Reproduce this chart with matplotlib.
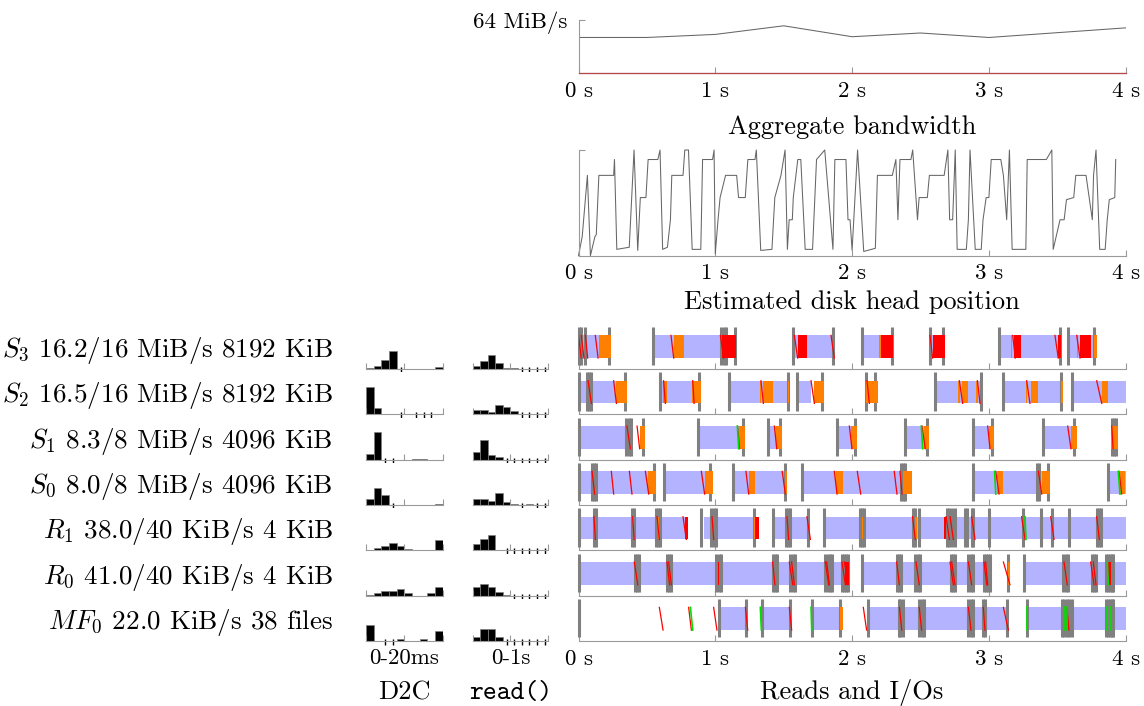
import numpy as np
import matplotlib
matplotlib.use('Agg')
from matplotlib import pyplot as plt

plt.rcParams['font.family'] = 'cmr10'
plt.rcParams['mathtext.fontset'] = 'cm'
plt.rcParams['axes.unicode_minus'] = False
plt.rcParams['axes.formatter.use_mathtext'] = True

#--------- aggregate bandwidth (MiB/s) ---------
bw_t = [0, 0.5, 1, 1.5, 2, 2.5, 3, 3.5, 4]
bw_total = [42.9, 42.9, 46.6, 57.0, 43.8, 48.3, 42.9, 48.7, 54.5]
bw_other = [0, 0, 0, 0, 0, 0, 0, 0, 0]

#--------- estimated disk head position (0..1) ---------
head_t = [0.0, 0.027, 0.065, 0.087, 0.12, 0.13, 0.149, 0.257, 0.263, 0.28, 0.371, 0.406,
          0.433, 0.452, 0.493, 0.509, 0.58, 0.596, 0.615, 0.65, 0.672, 0.682, 0.764, 0.777,
          0.804, 0.831, 0.894, 0.907, 0.98, 0.991, 1.0, 1.02, 1.035, 1.075, 1.156, 1.17,
          1.219, 1.238, 1.29, 1.3, 1.332, 1.414, 1.435, 1.48, 1.51, 1.527, 1.54, 1.563,
          1.57, 1.603, 1.625, 1.657, 1.711, 1.74, 1.8, 1.86, 1.874, 1.955, 1.97, 1.985,
          2.0, 2.04, 2.085, 2.17, 2.185, 2.294, 2.32, 2.335, 2.35, 2.43, 2.443, 2.478,
          2.49, 2.55, 2.565, 2.673, 2.7, 2.713, 2.735, 2.754, 2.768, 2.835, 2.85, 2.862,
          2.9, 2.944, 2.957, 2.98, 3.0, 3.017, 3.087, 3.106, 3.13, 3.15, 3.17, 3.27,
          3.28, 3.42, 3.46, 3.47, 3.52, 3.55, 3.567, 3.62, 3.635, 3.71, 3.756, 3.765,
          3.783, 3.81, 3.85, 3.865, 3.88, 3.92, 3.927]
head_pos = [0.0, 0.18, 0.76, 0.0, 0.18, 0.2, 0.76, 0.76, 0.91, 0.06, 0.08, 1.0,
            0.05, 0.55, 0.55, 0.91, 0.91, 1.0, 0.06, 0.08, 0.34, 0.76, 0.76, 1.0,
            1.0, 0.06, 0.06, 0.91, 0.91, 1.0, 0.02, 0.34, 0.55, 0.76, 0.76, 0.55,
            0.55, 0.91, 0.91, 1.0, 0.05, 0.06, 0.55, 0.76, 1.0, 0.06, 0.34, 0.34,
            0.55, 0.91, 0.91, 0.06, 0.06, 0.91, 1.0, 0.06, 0.91, 0.91, 0.34, 0.34,
            0.05, 1.0, 0.04, 0.07, 0.76, 0.76, 0.91, 0.34, 0.91, 0.91, 1.0, 0.34,
            0.55, 0.55, 0.76, 0.76, 1.0, 0.34, 0.34, 1.0, 0.06, 0.06, 0.34, 1.0,
            0.06, 0.06, 0.34, 0.55, 0.55, 0.91, 0.91, 0.76, 0.34, 1.0, 0.06, 0.06,
            0.91, 0.91, 1.0, 0.06, 0.34, 0.34, 0.53, 0.55, 0.76, 0.76, 0.34, 0.76,
            1.0, 0.06, 0.06, 0.34, 0.53, 0.55, 0.91]

#--------- reads and I/Os, one set of lists per stream ---------
row_labels = [r'$S_3$ 16.2/16 MiB/s 8192 KiB',
              r'$S_2$ 16.5/16 MiB/s 8192 KiB',
              r'$S_1$ 8.3/8 MiB/s 4096 KiB',
              r'$S_0$ 8.0/8 MiB/s 4096 KiB',
              r'$R_1$ 38.0/40 KiB/s 4 KiB',
              r'$R_0$ 41.0/40 KiB/s 4 KiB',
              r'$MF_0$ 22.0 KiB/s 38 files']

s3_blue = [(0.0, 0.147), (0.545, 1.044), (1.57, 1.858), (2.072, 2.204), (2.572, 2.59),
           (3.076, 3.519), (3.58, 3.771)]
s3_gray = [0.0, 0.021, 0.045, 0.225, 0.545, 1.042, 1.061, 1.078, 1.146, 1.57, 1.858, 2.072,
           2.289, 2.572, 2.667, 3.076, 3.519, 3.58, 3.771]
s3_orange = [(0.147, 0.24), (0.696, 0.769), (2.195, 2.208), (3.162, 3.172), (3.642, 3.652),
             (3.771, 3.788)]
s3_red = [(1.049, 1.154), (1.602, 1.671), (2.211, 2.297), (2.589, 2.677), (3.183, 3.235),
          (3.507, 3.524), (3.666, 3.744)]
s3_slant = [(0.0, 0.02), (0.02, 0.04), (0.05, 0.067), (0.123, 0.143), (0.676, 0.696),
            (1.037, 1.061), (1.578, 1.602), (1.846, 1.87), (2.569, 2.589), (3.174, 3.193),
            (3.483, 3.507), (3.642, 3.666)]
s3_green = []

s2_blue = [(0.0, 0.274), (0.593, 0.835), (1.098, 1.537), (1.597, 1.7), (2.606, 2.94),
           (3.106, 3.532), (3.61, 4.0)]
s2_gray = [0.0, 0.065, 0.079, 0.094, 0.338, 0.593, 0.878, 1.098, 1.529, 1.597, 1.78, 2.102,
           2.17, 2.606, 2.94, 3.106, 3.527, 3.61]
s2_orange = [(0.274, 0.355), (0.615, 0.647), (0.83, 0.893), (1.327, 1.337), (1.351, 1.42),
             (1.53, 1.54), (1.724, 1.794), (2.102, 2.187), (2.776, 2.788), (2.801, 2.85),
             (2.907, 2.918), (3.271, 3.28), (3.305, 3.361), (3.527, 3.544), (3.825, 3.868)]
s2_red = []
s2_slant = [(0.07, 0.094), (0.257, 0.277), (0.622, 0.635), (0.835, 0.845), (1.334, 1.351),
            (1.7, 1.724), (2.109, 2.126), (2.784, 2.808), (2.916, 2.935), (3.276, 3.3),
            (3.788, 3.825)]
s2_green = []

s1_blue = [(0.0, 0.354), (0.876, 1.171), (1.383, 1.444), (1.887, 1.992), (2.389, 2.523),
           (2.886, 3.003), (3.393, 3.598)]
s1_gray = [0.0, 0.35, 0.367, 0.384, 0.471, 0.876, 1.202, 1.383, 1.473, 1.887, 2.019, 2.389,
           2.548, 2.886, 3.025, 3.393, 3.625, 3.898, 3.915, 3.929]
s1_orange = [(0.447, 0.489), (1.171, 1.219), (1.444, 1.488), (1.992, 2.033), (2.523, 2.565),
             (3.003, 3.04), (3.598, 3.642), (3.891, 3.942)]
s1_red = []
s1_slant = [(0.354, 0.379), (0.428, 0.447), (1.163, 1.178), (1.432, 1.449), (1.98, 1.999),
            (2.511, 2.535), (2.991, 3.008), (3.576, 3.6), (3.898, 3.908)]
s1_green = [(1.161, 1.171), (2.506, 2.516)]

s0_blue = [(0.0, 0.513), (0.623, 0.922), (1.129, 1.507), (1.631, 2.37), (2.886, 3.386),
           (3.873, 4.0)]
s0_gray = [0.0, 0.099, 0.113, 0.128, 0.552, 0.623, 0.964, 1.129, 1.507, 1.631, 2.357, 2.372,
           2.386, 2.886, 3.349, 3.364, 3.43, 3.873]
s0_orange = [(0.508, 0.566), (0.922, 0.98), (1.244, 1.293), (1.507, 1.524), (1.883, 1.931),
             (2.37, 2.438), (3.062, 3.106), (3.386, 3.447), (3.958, 3.995)]
s0_red = []
s0_slant = [(0.099, 0.118), (0.24, 0.257), (0.372, 0.391), (0.489, 0.513), (0.898, 0.922),
            (1.224, 1.244), (1.489, 1.512), (1.87, 1.89), (2.038, 2.063), (2.308, 2.328),
            (2.35, 2.365), (3.05, 3.074), (3.362, 3.386), (3.951, 3.971)]
s0_green = [(3.042, 3.05), (3.946, 3.958)]

r1_blue = [(0.0, 0.781), (0.915, 1.293), (1.424, 1.687), (1.792, 4.0)]
r1_gray = [0.0, 0.111, 0.128, 0.391, 0.406, 0.567, 0.581, 0.598, 0.898, 0.971, 0.988, 1.005,
           1.285, 1.424, 1.517, 1.531, 1.546, 1.675, 1.792, 2.058, 2.072, 2.089, 2.442, 2.459,
           2.486, 2.691, 2.711, 2.733, 2.752, 2.825, 2.842, 2.874, 2.886, 3.003, 3.252, 3.378,
           3.459, 3.586, 3.793, 3.807, 3.82]
r1_orange = [(0.399, 0.408), (0.581, 0.591), (1.285, 1.293), (2.072, 2.082), (2.462, 2.471)]
r1_red = [(0.781, 0.8), (1.293, 1.322), (2.674, 2.69)]
r1_slant = [(0.113, 0.123), (0.396, 0.406), (0.574, 0.591), (0.764, 0.788), (0.976, 0.988),
            (1.524, 1.536), (1.67, 1.695), (2.442, 2.462), (2.687, 2.711), (2.716, 2.74),
            (2.874, 2.898), (3.239, 3.264), (3.452, 3.476), (3.788, 3.807)]
r1_green = [(3.264, 3.271)]

r0_blue = [(0.0, 1.975), (2.072, 3.008), (3.259, 4.0)]
r0_gray = [0.0, 0.411, 0.428, 0.445, 0.647, 0.664, 0.679, 1.008, 1.024, 1.042, 1.419, 1.436,
           1.451, 1.549, 1.566, 1.583, 1.804, 1.821, 1.838, 1.853, 1.924, 1.939, 1.956, 1.973,
           2.072, 2.326, 2.341, 2.358, 2.462, 2.479, 2.497, 2.72, 2.735, 2.752, 2.85, 2.867,
           2.881, 2.964, 2.979, 2.994, 3.008, 3.137, 3.259, 3.544, 3.561, 3.576, 3.751, 3.768,
           3.783, 3.853, 3.868, 3.883, 3.897, 3.909]
r0_orange = [(3.142, 3.154)]
r0_red = [(1.017, 1.029), (1.951, 1.975), (3.873, 3.89)]
r0_slant = [(0.408, 0.433), (0.647, 0.666), (0.659, 0.679), (1.419, 1.436), (1.541, 1.566),
            (1.558, 1.578), (1.804, 1.829), (1.814, 1.834), (1.926, 1.951), (1.944, 1.968),
            (2.326, 2.345), (2.467, 2.491), (2.716, 2.74), (2.728, 2.752), (2.85, 2.874),
            (2.964, 2.984), (2.976, 2.991), (3.106, 3.154), (3.549, 3.573), (3.744, 3.768),
            (3.763, 3.783)]
r0_green = [(3.866, 3.873)]

mf0_blue = [(1.025, 1.224), (1.339, 1.541), (1.707, 1.914), (2.114, 3.13), (3.281, 4.0)]
mf0_gray = [0.0, 1.025, 1.224, 1.339, 1.546, 1.707, 1.914, 2.114, 2.341, 2.353, 2.37, 2.491,
            2.508, 2.523, 2.85, 2.867, 2.881, 2.954, 2.971, 3.13, 3.281, 3.532, 3.55, 3.568,
            3.587, 3.605, 3.853, 3.868, 3.883, 3.897, 3.909]
mf0_orange = [(1.914, 1.931)]
mf0_red = []
mf0_slant = [(0.591, 0.618), (0.805, 0.825), (0.988, 1.012), (1.22, 1.237), (1.541, 1.558),
             (2.082, 2.106), (2.346, 2.363), (2.491, 2.508), (2.85, 2.869), (2.959, 2.971),
             (3.106, 3.142), (3.57, 3.585)]
mf0_green = [(0.818, 0.835), (1.329, 1.337), (1.7, 1.705), (3.281, 3.281), (3.55, 3.55),
             (3.568, 3.568), (3.866, 3.866), (3.886, 3.886)]

#--------- latency histograms (10 bins each), plus bins with only a few samples ---------
s3_d2c = [0.7, 3.3, 9.3, 18.3, 0, 0, 0, 0.4, 0.4, 1.7];   s3_d2c_few = [4]
s3_read = [2.7, 8.3, 14, 6, 0.7, 0.7, 0, 0, 0, 0];      s3_read_few = [6, 7, 8, 9]
s2_d2c = [27.3, 6, 0, 0, 0, 0, 0, 0, 0, 0.7];           s2_d2c_few = [4, 6, 7, 8]
s2_read = [4, 4, 2.3, 9.3, 7.3, 3.3, 0, 0, 0, 0];       s2_read_few = [6, 7, 8, 9]
s1_d2c = [5.7, 27.3, 0, 0, 0, 0, 0.3, 0.3, 0, 0];       s1_d2c_few = [2, 3]
s1_read = [8, 19.7, 4.7, 3, 0, 0, 0, 0, 0, 0];          s1_read_few = [4, 5, 6, 7, 8, 9]
s0_d2c = [6, 16.7, 10, 0, 0, 0, 0, 0, 0, 0.7];          s0_d2c_few = [3]
s0_read = [6, 6, 4.3, 11.7, 2.7, 1, 0, 1, 0, 0];        s0_read_few = [6, 8, 9]
r1_d2c = [0.3, 2.3, 4.3, 7.3, 4, 1.7, 0.3, 0, 0.3, 10]; r1_d2c_few = []
r1_read = [6, 11.7, 15.7, 0.7, 0, 0, 0, 0, 0, 0];       r1_read_few = [4, 5, 6, 7, 8, 9]
r0_d2c = [0.3, 2.3, 5, 4.7, 6.3, 2.3, 0, 0, 2.3, 9];    r0_d2c_few = []
r0_read = [9, 11.7, 9, 3.3, 0.7, 0, 0, 0, 0, 0];        r0_read_few = [5, 6, 7, 8, 9]
mf0_d2c = [16, 0, 0, 0, 1.7, 0, 0, 1.7, 0, 10];         mf0_d2c_few = [2, 3]
mf0_read = [4.3, 12, 12, 4.3, 0, 0, 0, 0, 0, 0];        mf0_read_few = [4, 5, 6, 7, 8, 9]

rows = [
    (s3_blue, s3_gray, s3_orange, s3_red, s3_slant, s3_green, s3_d2c, s3_d2c_few, s3_read, s3_read_few),
    (s2_blue, s2_gray, s2_orange, s2_red, s2_slant, s2_green, s2_d2c, s2_d2c_few, s2_read, s2_read_few),
    (s1_blue, s1_gray, s1_orange, s1_red, s1_slant, s1_green, s1_d2c, s1_d2c_few, s1_read, s1_read_few),
    (s0_blue, s0_gray, s0_orange, s0_red, s0_slant, s0_green, s0_d2c, s0_d2c_few, s0_read, s0_read_few),
    (r1_blue, r1_gray, r1_orange, r1_red, r1_slant, r1_green, r1_d2c, r1_d2c_few, r1_read, r1_read_few),
    (r0_blue, r0_gray, r0_orange, r0_red, r0_slant, r0_green, r0_d2c, r0_d2c_few, r0_read, r0_read_few),
    (mf0_blue, mf0_gray, mf0_orange, mf0_red, mf0_slant, mf0_green, mf0_d2c, mf0_d2c_few, mf0_read, mf0_read_few),
]

#--------- style ---------
AXC = '#9a9a9a'
LINE = '#666666'
BLUE = '#b3b3ff'
GRAY = '#808080'
ORANGE = '#ff8000'
RED = '#ff0000'
GREEN = '#00e000'
BIG = 19
LABEL = 19.5
SMALL = 16.5

W, H = 1144, 706
X0, X1 = 578.5, 1125.7   # 0 s and 4 s, in pixels
fig = plt.figure(figsize=(W / 100, H / 100), dpi=100)


def box(x0, y0, x1, y1):
    # pixel box (origin top left) -> figure fraction rect
    return [x0 / W, 1 - y1 / H, (x1 - x0) / W, (y1 - y0) / H]


def time_axis(ax, labels=True):
    ax.set_xlim(0, 4)
    for s in ['top', 'right']:
        ax.spines[s].set_visible(False)
    ax.spines['bottom'].set_color(AXC)
    ax.spines['left'].set_color(AXC)
    ax.set_xticks(range(5))
    if labels:
        ax.set_xticklabels(['%d s' % i for i in range(5)], va='baseline')
    else:
        ax.set_xticklabels([])
    ax.tick_params(axis='x', direction='in', length=4, color=AXC, pad=17, labelsize=SMALL)


#---------- aggregate bandwidth ----------
ax = fig.add_axes(box(X0, 20, X1, 73))
ax.plot(bw_t, bw_total, color=LINE, lw=0.75)
ax.plot(bw_t, bw_other, color='#b84848', lw=0.9, clip_on=False, zorder=3)
ax.set_ylim(0, 64)
time_axis(ax)
ax.set_yticks([64])
ax.set_yticklabels(['64 MiB/s'])
ax.tick_params(axis='y', direction='in', length=4, color=AXC, pad=8, labelsize=SMALL)
fig.text(852 / W, 1 - 134 / H, 'Aggregate bandwidth', ha='center', va='baseline', fontsize=BIG)

#---------- disk head ----------
ax = fig.add_axes(box(X0, 150, X1, 255.7))
ax.plot(head_t, head_pos, color=LINE, lw=0.75, clip_on=False)
ax.set_ylim(0, 1)
time_axis(ax)
ax.set_yticks([1])
ax.set_yticklabels([])
ax.tick_params(axis='y', direction='in', length=4, color=AXC)
fig.text(852 / W, 1 - 309 / H, 'Estimated disk head position', ha='center', va='baseline', fontsize=BIG)

#---------- reads and I/Os ----------
BAND = (0.26, 0.54)
for k, (blue, gray, orange, red, slant, green, d2c, d2c_few, rd, rd_few) in enumerate(rows):
    base = 369 + 45.33 * k
    ax = fig.add_axes(box(X0, base - 42, X1, base))
    ax.broken_barh([(a, b - a) for a, b in blue], BAND, facecolors=BLUE, zorder=1)
    ax.vlines(gray, 0.09, 1.0, colors=GRAY, lw=2.2, zorder=2, clip_on=False)
    ax.broken_barh([(a, b - a) for a, b in orange], BAND, facecolors=ORANGE, zorder=3)
    ax.broken_barh([(a, b - a) for a, b in red], BAND, facecolors=RED, zorder=3)
    for a, b in slant:
        ax.plot([a, b], [BAND[0] + BAND[1], BAND[0]], color=RED, lw=0.9, zorder=4)
    for a, b in green:
        ax.plot([a, b], [BAND[0] + BAND[1], BAND[0]], color=GREEN, lw=1.2, zorder=4)
    ax.set_ylim(0, 1)
    time_axis(ax, labels=(k == len(rows) - 1))
    ax.spines['left'].set_visible(False)
    ax.set_yticks([])

    fig.text(333 / W, 1 - (base - 12) / H, row_labels[k], ha='right', va='baseline', fontsize=LABEL)

    # the two histograms
    for (hx0, hx1), vals, few in [((366, 442.7), d2c, d2c_few), ((472.7, 548.3), rd, rd_few)]:
        hx = fig.add_axes(box(hx0, base - 42, hx1, base))
        hx.bar(np.arange(10) + 0.5, vals, width=1, color='black', edgecolor=GRAY, lw=0.5)
        hx.vlines(np.array(few) + 0.5, -4, 2, colors='black', lw=1.0, clip_on=False)
        hx.set_xlim(0, 10)
        hx.set_ylim(0, 42)
        for s in ['top', 'right', 'left']:
            hx.spines[s].set_visible(False)
        hx.spines['bottom'].set_color(AXC)
        hx.set_xticks([0, 5, 10])
        hx.set_xticklabels([])
        hx.set_yticks([])
        hx.tick_params(axis='x', direction='in', length=4, color=AXC)

fig.text(404 / W, 1 - 664 / H, '0-20ms', ha='center', va='baseline', fontsize=SMALL)
fig.text(510.5 / W, 1 - 664 / H, '0-1s', ha='center', va='baseline', fontsize=SMALL)
fig.text(404 / W, 1 - 699 / H, 'D2C', ha='center', va='baseline', fontsize=BIG)
fig.text(510.5 / W, 1 - 699 / H, 'read()', ha='center', va='baseline', fontsize=BIG, family='cmtt10')
fig.text(852 / W, 1 - 699 / H, 'Reads and I/Os', ha='center', va='baseline', fontsize=BIG)

plt.savefig('out.png', dpi=100)
